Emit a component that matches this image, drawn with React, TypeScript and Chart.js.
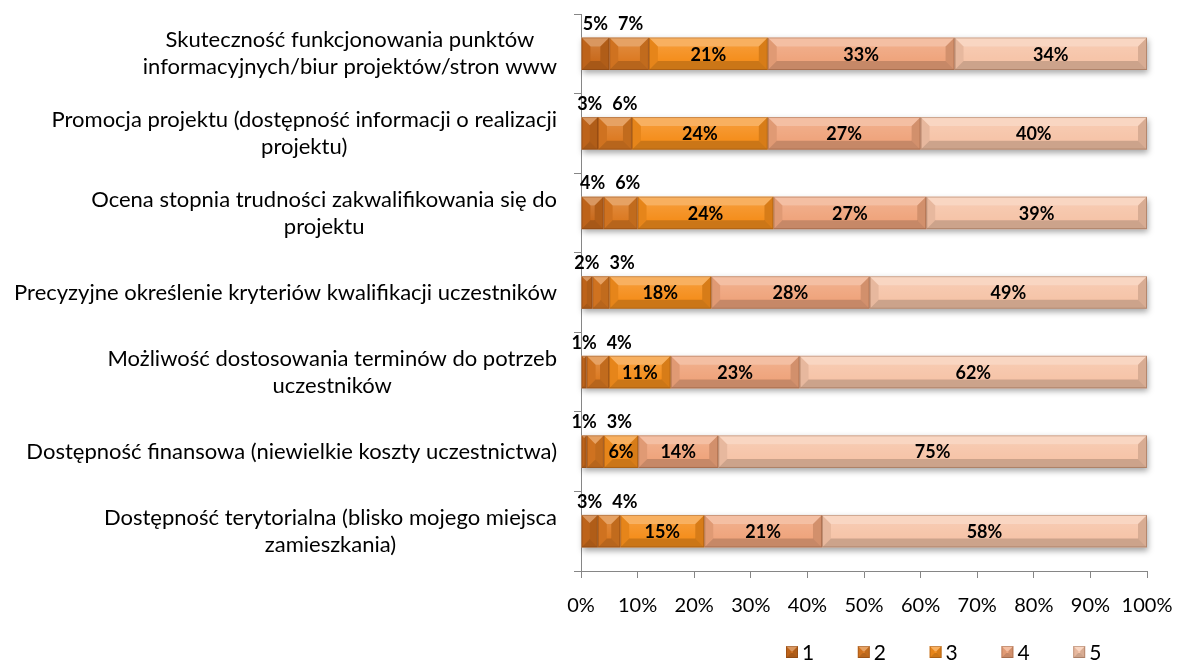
import React, { useEffect, useRef } from "react";
import { Chart, registerables } from "chart.js";

Chart.register(...registerables);

const categories: string[][] = [
  ["Skuteczność funkcjonowania punktów", "informacyjnych/biur projektów/stron www"],
  ["Promocja projektu (dostępność informacji o realizacji", "projektu)"],
  ["Ocena stopnia trudności zakwalifikowania się do", "projektu"],
  ["Precyzyjne określenie kryteriów kwalifikacji uczestników"],
  ["Możliwość dostosowania terminów do potrzeb", "uczestników"],
  ["Dostępność finansowa (niewielkie koszty uczestnictwa)"],
  ["Dostępność terytorialna (blisko mojego miejsca", "zamieszkania)"],
];

const seriesNames = ["1", "2", "3", "4", "5"];
const s1 = [5, 3, 4, 2, 1, 1, 3];
const s2 = [7, 6, 6, 3, 4, 3, 4];
const s3 = [21, 24, 24, 18, 11, 6, 15];
const s4 = [33, 27, 27, 28, 23, 14, 21];
const s5 = [34, 40, 39, 49, 62, 75, 58];
const series = [s1, s2, s3, s4, s5];
const colors = ["#C96A1C", "#DC7A22", "#F58E1C", "#EFA47C", "#F6C4A8"];
const xTicks = [0, 10, 20, 30, 40, 50, 60, 70, 80, 90, 100];

const FONT = "Lato, 'Open Sans', sans-serif";

function drawBevel(ctx: CanvasRenderingContext2D, l: number, t: number, r: number, b: number, maxD: number) {
  const w = r - l;
  const h = b - t;
  const d = Math.max(0, Math.min(maxD, w / 2, h / 2));
  const poly = (pts: number[][], fill: string) => {
    ctx.beginPath();
    ctx.moveTo(pts[0][0], pts[0][1]);
    for (let i = 1; i < pts.length; i++) ctx.lineTo(pts[i][0], pts[i][1]);
    ctx.closePath();
    ctx.fillStyle = fill;
    ctx.fill();
  };
  poly([[l, t], [r, t], [r - d, t + d], [l + d, t + d]], "rgba(255,255,255,0.30)");
  poly([[l, b], [r, b], [r - d, b - d], [l + d, b - d]], "rgba(0,0,0,0.17)");
  poly([[l, t], [l + d, t + d], [l + d, b - d], [l, b]], "rgba(0,0,0,0.06)");
  poly([[r, t], [r - d, t + d], [r - d, b - d], [r, b]], "rgba(0,0,0,0.12)");
  if (w - 2 * d > 0 && h - 2 * d > 0) {
    const g = ctx.createLinearGradient(0, t + d, 0, b - d);
    g.addColorStop(0, "rgba(255,255,255,0.10)");
    g.addColorStop(1, "rgba(255,255,255,0)");
    ctx.fillStyle = g;
    ctx.fillRect(l + d, t + d, w - 2 * d, h - 2 * d);
  }
  ctx.strokeStyle = "rgba(90,40,10,0.28)";
  ctx.lineWidth = 1;
  ctx.strokeRect(l + 0.5, t + 0.5, w - 1, h - 1);
}

function barRect(el: any) {
  const p = el.getProps(["x", "y", "base", "height"], true);
  const l = Math.min(p.x, p.base);
  const r = Math.max(p.x, p.base);
  return { l, r, t: p.y - p.height / 2, b: p.y + p.height / 2, cy: p.y };
}

const shadowPlugin = {
  id: "rowShadow",
  beforeDatasetsDraw(chart: any) {
    const ctx = chart.ctx;
    const first = chart.getDatasetMeta(0);
    const last = chart.getDatasetMeta(chart.data.datasets.length - 1);
    ctx.save();
    for (let i = 0; i < first.data.length; i++) {
      const a = barRect(first.data[i]);
      const z = barRect(last.data[i]);
      ctx.shadowColor = "rgba(0,0,0,0.35)";
      ctx.shadowBlur = 6;
      ctx.shadowOffsetY = 3;
      ctx.shadowOffsetX = 1;
      ctx.fillStyle = "#fff";
      ctx.fillRect(a.l, a.t, z.r - a.l, a.b - a.t);
    }
    ctx.restore();
  },
};

const bevelLabelPlugin = {
  id: "bevelLabels",
  afterDatasetsDraw(chart: any) {
    const ctx = chart.ctx;
    ctx.save();
    const n = chart.data.datasets.length;
    for (let d = 0; d < n; d++) {
      const meta = chart.getDatasetMeta(d);
      meta.data.forEach((el: any) => {
        const r = barRect(el);
        drawBevel(ctx, r.l, r.t, r.r, r.b, 9);
      });
    }
    ctx.font = `bold 18px ${FONT}`;
    ctx.fillStyle = "#000";
    ctx.textBaseline = "middle";
    ctx.textAlign = "center";
    const count = chart.getDatasetMeta(0).data.length;
    for (let i = 0; i < count; i++) {
      const r0 = barRect(chart.getDatasetMeta(0).data[i]);
      const r1 = barRect(chart.getDatasetMeta(1).data[i]);
      const t0 = series[0][i] + "%";
      const t1 = series[1][i] + "%";
      const w0 = ctx.measureText(t0).width;
      const w1 = ctx.measureText(t1).width;
      const c0 = (r0.l + r0.r) / 2;
      let c1 = (r1.l + r1.r) / 2;
      const minDist = (w0 + w1) / 2 + 10;
      if (c1 - c0 < minDist) c1 = c0 + minDist;
      const ly = r0.t - 13;
      ctx.fillText(t0, c0, ly);
      ctx.fillText(t1, c1, ly);
      for (let d = 2; d < n; d++) {
        const rr = barRect(chart.getDatasetMeta(d).data[i]);
        ctx.fillText(series[d][i] + "%", (rr.l + rr.r) / 2, rr.cy + 1);
      }
    }
    ctx.restore();
  },
};

const categoryLabelPlugin = {
  id: "catLabels",
  afterDraw(chart: any) {
    const ctx = chart.ctx;
    const y = chart.scales.y;
    ctx.save();
    ctx.font = `22px ${FONT}`;
    ctx.fillStyle = "#000";
    ctx.textAlign = "center";
    ctx.textBaseline = "middle";
    const right = chart.chartArea.left - 24;
    const lh = 27;
    categories.forEach((lines, i) => {
      const cy = y.getPixelForValue(i);
      const maxW = Math.max(...lines.map((s) => ctx.measureText(s).width));
      const cx = right - maxW / 2;
      lines.forEach((s, k) => {
        const yy = cy + (k - (lines.length - 1) / 2) * lh;
        ctx.fillText(s, cx, yy);
      });
    });
    ctx.restore();
  },
};

const legendPlugin = {
  id: "customLegend",
  afterDraw(chart: any) {
    const ctx = chart.ctx;
    const ca = chart.chartArea;
    ctx.save();
    ctx.font = `21px ${FONT}`;
    ctx.textBaseline = "middle";
    ctx.textAlign = "left";
    const x0 = ca.left + 205;
    const cy = 652;
    seriesNames.forEach((name, i) => {
      const bx = x0 + i * 71.8;
      ctx.fillStyle = colors[i];
      ctx.fillRect(bx, cy - 6, 12, 12);
      drawBevel(ctx, bx, cy - 6, bx + 12, cy + 6, 5);
      ctx.fillStyle = "#000";
      ctx.fillText(name, bx + 16, cy + 1);
    });
    ctx.restore();
  },
};

export default function App() {
  const ref = useRef<HTMLCanvasElement | null>(null);
  useEffect(() => {
    if (!ref.current) return;
    const datasets = series.map((s, d) => ({
      label: seriesNames[d],
      data: s.map((v, i) => {
        const total = series.reduce((acc, ser) => acc + ser[i], 0);
        return (v / total) * 100;
      }),
      backgroundColor: colors[d],
      borderWidth: 0,
      barPercentage: 0.41,
      categoryPercentage: 1,
    }));
    const chart = new Chart(ref.current, {
      type: "bar",
      data: { labels: categories.map((c) => c.join(" ")), datasets },
      options: {
        indexAxis: "y",
        animation: false,
        responsive: false,
        maintainAspectRatio: false,
        layout: { padding: { top: 14, right: 33, bottom: 41, left: 0 } },
        plugins: { legend: { display: false }, tooltip: { enabled: false } },
        scales: {
          x: {
            stacked: true,
            min: 0,
            max: 100,
            afterBuildTicks: (scale: any) => {
              scale.ticks = xTicks.map((v) => ({ value: v }));
            },
            afterFit: (scale: any) => {
              scale.height = 50;
              scale.paddingLeft = 0;
              scale.paddingRight = 0;
            },
            ticks: {
              callback: (v: any) => v + "%",
              font: { family: FONT, size: 20 },
              color: "#000",
              padding: 16,
              maxRotation: 0,
            },
            grid: { drawOnChartArea: false, tickLength: 7, color: "#868686" },
            border: { display: true, color: "#868686", width: 1 },
          },
          y: {
            stacked: true,
            afterFit: (scale: any) => {
              scale.width = 581;
            },
            ticks: { display: false },
            grid: { drawOnChartArea: false, offset: true, tickLength: 7, color: "#868686" },
            border: { display: true, color: "#868686", width: 1 },
          },
        },
      },
      plugins: [shadowPlugin, bevelLabelPlugin, categoryLabelPlugin, legendPlugin],
    } as any);
    return () => chart.destroy();
  }, []);
  return (
    <div style={{ position: "fixed", left: 0, top: 0, width: 1180, height: 662, background: "#fff" }}>
      <canvas ref={ref} width={1180} height={662} style={{ display: "block" }} />
    </div>
  );
}
